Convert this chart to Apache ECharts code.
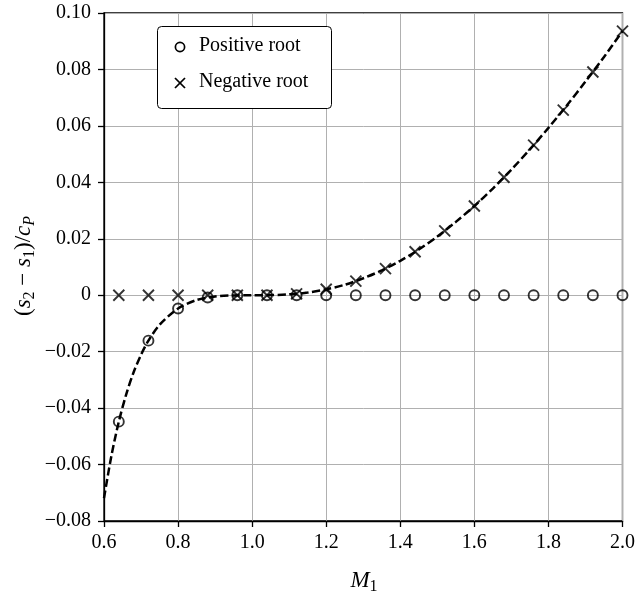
<!DOCTYPE html>
<html>
<head>
<meta charset="utf-8">
<script src="https://cdn.jsdelivr.net/npm/echarts@6/dist/echarts.min.js"></script>
<style>
  html, body { margin: 0; padding: 0; background: #fff; }
  #chart { width: 638px; height: 598px; }
</style>
</head>
<body>
<div id="chart"></div>
<script>
// Entropy change across the shock, (s2 - s1)/cP, against upstream Mach number
const curveMach = [0.60, 0.62, 0.64, 0.66, 0.68, 0.70, 0.72, 0.75, 0.80, 0.85, 0.90, 0.95,
  1.00, 1.05, 1.10, 1.15, 1.20, 1.25, 1.30, 1.35, 1.40, 1.45, 1.50, 1.55, 1.60, 1.65,
  1.70, 1.75, 1.80, 1.85, 1.90, 1.95, 2.00];
const curveEntropy = [-0.0719, -0.0569, -0.0448, -0.0351, -0.0273, -0.0211, -0.0161, -0.0105,
  -0.0047, -0.0017, -0.00046, -0.00007, 0, 0.00005, 0.0003, 0.00094, 0.0021, 0.0037,
  0.0060, 0.0088, 0.0122, 0.0162, 0.0208, 0.0260, 0.0316, 0.0378, 0.0445, 0.0517,
  0.0593, 0.0673, 0.0757, 0.0844, 0.0936];

// Sampled roots
const rootMach = [0.64, 0.72, 0.80, 0.88, 0.96, 1.04, 1.12, 1.20, 1.28, 1.36, 1.44,
  1.52, 1.60, 1.68, 1.76, 1.84, 1.92, 2.00];
const positiveRoot = [-0.0448, -0.0161, -0.0047, -0.0008, 0, 0, 0, 0, 0, 0, 0,
  0, 0, 0, 0, 0, 0, 0];
const negativeRoot = [0, 0, 0, 0, 0, 0, 0.0005, 0.0021, 0.0050, 0.0094, 0.0154,
  0.0228, 0.0316, 0.0418, 0.0532, 0.0656, 0.0791, 0.0936];

// Axis ticks
const xTickLabels = ['0.6', '0.8', '1.0', '1.2', '1.4', '1.6', '1.8', '2.0'];
const yTickLabels = ['\u22120.08', '\u22120.06', '\u22120.04', '\u22120.02', '0',
  '0.02', '0.04', '0.06', '0.08', '0.10'];
const legendNames = ['Positive root', 'Negative root'];

const X_MIN = 0.6, X_MAX = 2.0, X_STEP = 0.2;
const Y_MIN = -0.08, Y_MAX = 0.10, Y_STEP = 0.02;

const FONT = '"Liberation Serif", "DejaVu Serif", serif';

const pairs = (xs, ys) => xs.map((x, i) => [x, ys[i]]);

const chart = echarts.init(document.getElementById('chart'), null, { renderer: 'canvas' });

const axisCommon = {
  type: 'value',
  axisLine: { show: true, onZero: false, lineStyle: { color: '#000', width: 1.3 } },
  axisTick: { show: true, inside: false, length: 6, lineStyle: { color: '#000', width: 1.3 } },
  splitLine: { show: true, lineStyle: { color: '#b0b0b0', width: 1 } },
  axisLabel: { color: '#000', fontFamily: FONT, fontSize: 20, showMinLabel: true, showMaxLabel: true }
};

// Rich-text styles for the axis titles (italic symbols with subscripts)
const subRich = {
  n: { fontFamily: FONT, fontSize: 23, lineHeight: 27, color: '#000' },
  i: { fontFamily: FONT, fontSize: 23, fontStyle: 'italic', lineHeight: 27, color: '#000' },
  sb: { fontFamily: FONT, fontSize: 16, lineHeight: 16, verticalAlign: 'bottom', color: '#000' },
  sbi: { fontFamily: FONT, fontSize: 16, fontStyle: 'italic', lineHeight: 16, verticalAlign: 'bottom', color: '#000' }
};

const option = {
  backgroundColor: '#fff',
  animation: false,
  grid: {
    left: 104, right: 13, top: 13, bottom: 77,
    show: true, borderColor: '#000', borderWidth: 1.3, backgroundColor: 'transparent'
  },
  xAxis: Object.assign({}, axisCommon, {
    min: X_MIN, max: X_MAX, interval: X_STEP,
    axisLabel: Object.assign({}, axisCommon.axisLabel, {
      margin: 12,
      formatter: (v) => xTickLabels[Math.round((v - X_MIN) / X_STEP)]
    })
  }),
  yAxis: Object.assign({}, axisCommon, {
    min: Y_MIN, max: Y_MAX, interval: Y_STEP,
    axisLabel: Object.assign({}, axisCommon.axisLabel, {
      margin: 13,
      formatter: (v) => yTickLabels[Math.round((v - Y_MIN) / Y_STEP)]
    })
  }),
  series: [
    {
      name: legendNames[0],
      type: 'scatter',
      data: pairs(rootMach, positiveRoot),
      symbol: 'circle',
      symbolSize: 10,
      itemStyle: { color: 'none', borderColor: '#000', borderWidth: 1.9 },
      emphasis: { disabled: true },
      silent: true,
      z: 3
    },
    {
      name: legendNames[1],
      type: 'scatter',
      data: pairs(rootMach, negativeRoot),
      symbol: 'path://M0,0L10,10M0,10L10,0',
      symbolSize: 11,
      itemStyle: { color: 'none', borderColor: '#000', borderWidth: 1.9 },
      emphasis: { disabled: true },
      silent: true,
      z: 3
    },
    {
      type: 'line',
      data: pairs(curveMach, curveEntropy),
      showSymbol: false,
      smooth: 0.3,
      lineStyle: { color: '#000', width: 2.5, type: [8, 3.5] },
      silent: true,
      z: 4
    }
  ],
  graphic: [
    // axis titles
    {
      type: 'text', x: 364, y: 581,
      style: { text: '{i|M}{sb|1}', rich: subRich, align: 'center', verticalAlign: 'middle' }
    },
    {
      type: 'text', x: 24, y: 266, rotation: Math.PI / 2,
      style: {
        text: '{n|(}{i|s}{sb|2}{n| \u2212 }{i|s}{sb|1}{n|)/}{i|c}{sbi|P}',
        rich: subRich, align: 'center', verticalAlign: 'middle'
      }
    },
    // legend box
    {
      type: 'rect', z: 10,
      shape: { x: 157.5, y: 26.5, width: 174, height: 82, r: 4 },
      style: { fill: '#fff', stroke: '#000', lineWidth: 1 }
    },
    {
      type: 'circle', z: 11,
      shape: { cx: 180, cy: 47, r: 4.6 },
      style: { fill: 'none', stroke: '#000', lineWidth: 1.7 }
    },
    {
      type: 'polyline', z: 11,
      shape: { points: [[175, 78], [185, 88]] },
      style: { stroke: '#000', lineWidth: 1.7 }
    },
    {
      type: 'polyline', z: 11,
      shape: { points: [[175, 88], [185, 78]] },
      style: { stroke: '#000', lineWidth: 1.7 }
    },
    {
      type: 'text', z: 11, x: 199, y: 46,
      style: { text: legendNames[0], fontFamily: FONT, fontSize: 20, fill: '#000', verticalAlign: 'middle' }
    },
    {
      type: 'text', z: 11, x: 199, y: 82,
      style: { text: legendNames[1], fontFamily: FONT, fontSize: 20, fill: '#000', verticalAlign: 'middle' }
    }
  ]
};

chart.setOption(option);
</script>
</body>
</html>
